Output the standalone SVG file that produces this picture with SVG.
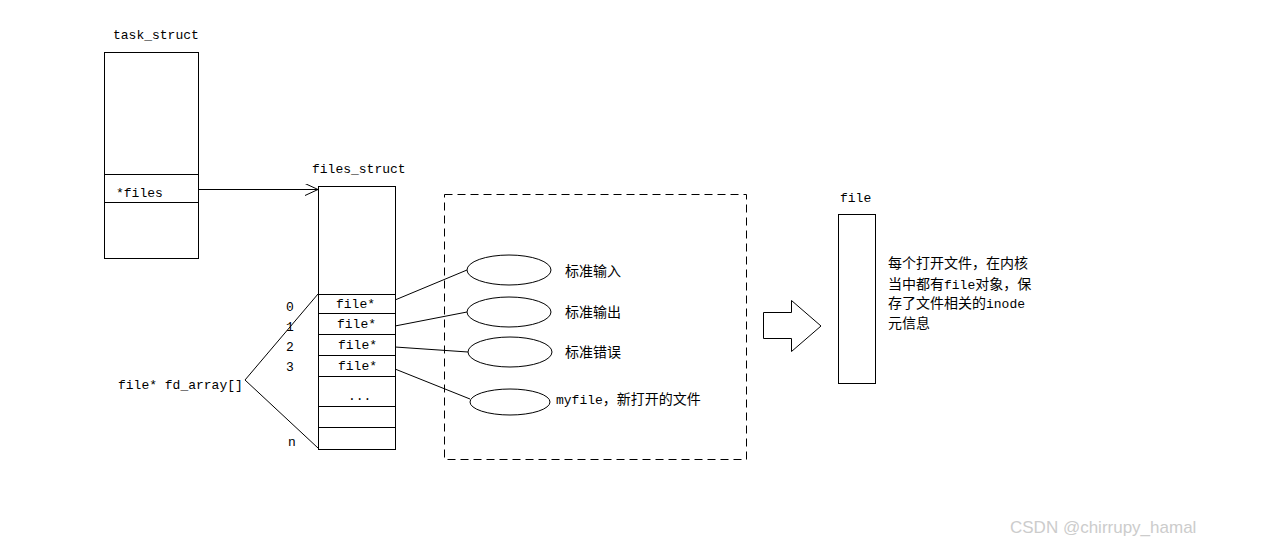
<svg xmlns="http://www.w3.org/2000/svg" width="1274" height="551" viewBox="0 0 1274 551">
<style>
.s{fill:none;stroke:#000;stroke-width:1}
.m{font-family:"Liberation Mono","Noto Sans CJK SC",monospace;font-size:13px;fill:#000}
.c{font-family:"Noto Sans CJK SC",sans-serif;font-size:14px;fill:#000}
</style>
<defs><marker id="a" markerWidth="14" markerHeight="12" refX="13" refY="6" orient="auto" markerUnits="userSpaceOnUse"><path d="M0,0 L13,6 L0,12" class="s"/></marker></defs>
<rect width="1274" height="551" fill="#fff"/>
<g id="task_struct">
<text class="m" x="113" y="39">task_struct</text>
<rect class="s" x="104.5" y="52.5" width="94" height="206"/>
<line class="s" x1="104" y1="174.5" x2="198" y2="174.5"/>
<line class="s" x1="104" y1="202.5" x2="198" y2="202.5"/>
<text class="m" x="116" y="197">*files</text>
</g>
<g id="files_struct">
<text class="m" x="312" y="173">files_struct</text>
<rect class="s" x="318.5" y="186.5" width="77" height="263"/>
<path class="s" d="M318,294.5H395M318,313.5H395M318,334.5H395M318,355.5H395M318,376.5H395M318,406.5H395M318,427.5H395"/>
<text class="m" x="336" y="308">file*</text>
<text class="m" x="337" y="328">file*</text>
<text class="m" x="338" y="349">file*</text>
<text class="m" x="338" y="370">file*</text>
<text class="m" x="348" y="400">...</text>
<text class="m" x="286" y="311">0</text>
<text class="m" x="286" y="331">1</text>
<text class="m" x="286" y="351">2</text>
<text class="m" x="286" y="371">3</text>
<text class="m" x="288" y="446">n</text>
<text class="m" x="118" y="389">file* fd_array[]</text>
</g>
<g id="open_files">
<rect class="s" x="444.5" y="194.5" width="302" height="265" stroke-dasharray="8,5"/>
<ellipse class="s" cx="509" cy="270" rx="42" ry="15"/>
<ellipse class="s" cx="509" cy="312" rx="42" ry="15"/>
<ellipse class="s" cx="510" cy="352" rx="42" ry="15"/>
<ellipse class="s" cx="510" cy="402" rx="40" ry="13"/>
<text class="c" x="565" y="276">标准输入</text>
<text class="c" x="565" y="317">标准输出</text>
<text class="c" x="565" y="357">标准错误</text>
<text class="c" x="556" y="404"><tspan class="m">myfile</tspan>，新打开的文件</text>
</g>
<g id="file">
<text class="m" x="840" y="202">file</text>
<rect class="s" x="838.5" y="214.5" width="37" height="169"/>
<text class="c" x="888" y="268">每个打开文件，在内核</text>
<text class="c" x="888" y="289">当中都有<tspan class="m">file</tspan>对象，保</text>
<text class="c" x="888" y="308">存了文件相关的<tspan class="m">inode</tspan></text>
<text class="c" x="888" y="328">元信息</text>
</g>
<g id="connectors">
<line class="s" x1="198" y1="189.5" x2="318" y2="189.5" marker-end="url(#a)"/>
<line class="s" x1="395" y1="300" x2="467" y2="270"/>
<line class="s" x1="395" y1="326" x2="467" y2="312"/>
<line class="s" x1="395" y1="347" x2="468" y2="352"/>
<line class="s" x1="395" y1="369" x2="470" y2="399"/>
<path class="s" d="M318,294 L245,380 L318,448"/>
<path class="s" d="M763.5,312.5H791.5V300.5L821,326L791.5,351.5V338.5H763.5Z"/>
</g>
<text x="1010" y="533" font-family="Liberation Sans,sans-serif" font-size="17" fill="#ccc">CSDN @chirrupy_hamal</text>
</svg>
